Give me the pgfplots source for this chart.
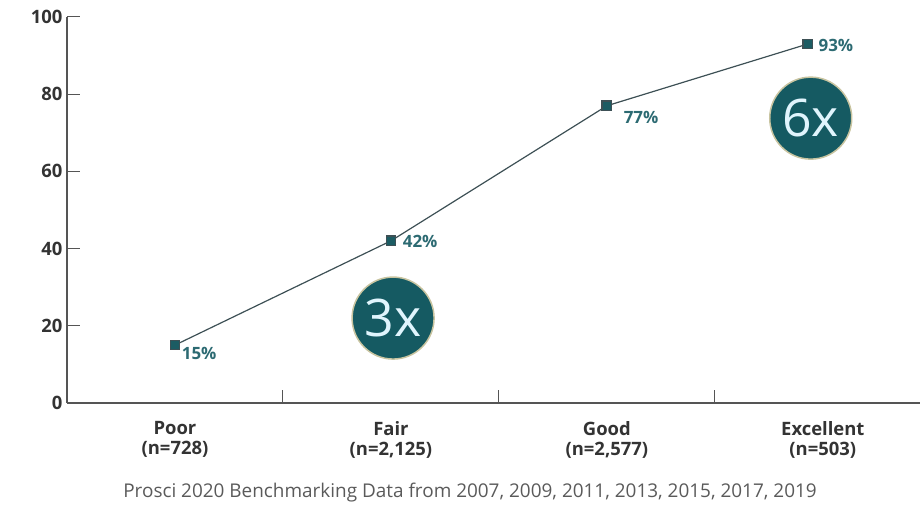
\documentclass[border=0pt]{standalone}
\usepackage{pgfplots}
\pgfplotsset{compat=1.18}
\usepackage{pgfplotstable}
\usepackage{fontspec}
\setmainfont{Open Sans}
\definecolor{circfill}{HTML}{155A62}
\definecolor{circring}{HTML}{C8C4A0}
\definecolor{marker}{HTML}{1C5C63}
\definecolor{lbl}{HTML}{2C6A72}
\definecolor{linec}{HTML}{3D5055}
\definecolor{axisc}{HTML}{555555}
\definecolor{txt}{HTML}{333333}
\definecolor{captc}{HTML}{5A5A5A}
\pgfplotstableread{
x y dx dy
0 15 3 -8
1 42 8 -1
2 77 13 -12
2.93 93 7 -1
}\data
\begin{document}
\begin{tikzpicture}
\useasboundingbox (0,0) rectangle (923bp,517bp);
\begin{axis}[
  at={(67bp,114bp)}, anchor=south west,
  scale only axis, width=853bp, height=386bp,
  xmin=-0.5, xmax=3.45, ymin=0, ymax=100,
  axis lines*=left,
  axis line style={draw=axisc, line width=1.2bp},
  clip=false,
  tick align=inside,
  major tick length=13bp,
  tick style={draw=axisc, line width=1bp},
  ytick={0,20,40,60,80,100},
  xtick={0.5,1.5,2.5}, xticklabels={,,},
  extra x ticks={0,1,2,3},
  extra x tick labels={{Poor\\(n=728)},{Fair\\(n=2,125)},{Good\\(n=2,577)},{Excellent\\(n=503)}},
  extra x tick style={major tick length=0pt},
  /pgf/number format/assume math mode=true,
  yticklabel style={font=\fontsize{18.5}{21}\selectfont\bfseries, text=txt, xshift=-1bp},
  xticklabel style={font=\fontsize{18.5}{20}\selectfont\bfseries, text=txt, align=center, yshift=-15bp},
]
\addplot[color=linec, line width=1.2bp, mark=square*, mark size=4.8bp,
  mark options={draw=none, fill=marker},
  point meta=\thisrow{y},
  visualization depends on={\thisrow{dy} \as \dy},
  visualization depends on={\thisrow{dx} \as \dx},
  nodes near coords={\pgfmathprintnumber{\pgfplotspointmeta}\%},
  nodes near coords style={anchor=west, xshift=\dx bp, yshift=\dy bp, font=\fontsize{17}{19}\selectfont\bfseries, text=lbl},
] table[x=x, y=y] {\data};
\addplot[only marks, mark=*, mark size=41bp,
  mark options={fill=circfill, draw=circring, line width=1.5bp},
  point meta=explicit symbolic,
  nodes near coords,
  nodes near coords style={anchor=center, font=\fontsize{52}{52}\selectfont, text=white!88!cyan},
] coordinates {(1.01,22) [3x] (2.944,73.8) [6x]};
\end{axis}
\node[font=\fontsize{19}{22}\selectfont, text=captc] at (470bp,24bp) {Prosci 2020 Benchmarking Data from 2007, 2009, 2011, 2013, 2015, 2017, 2019};
\end{tikzpicture}
\end{document}
